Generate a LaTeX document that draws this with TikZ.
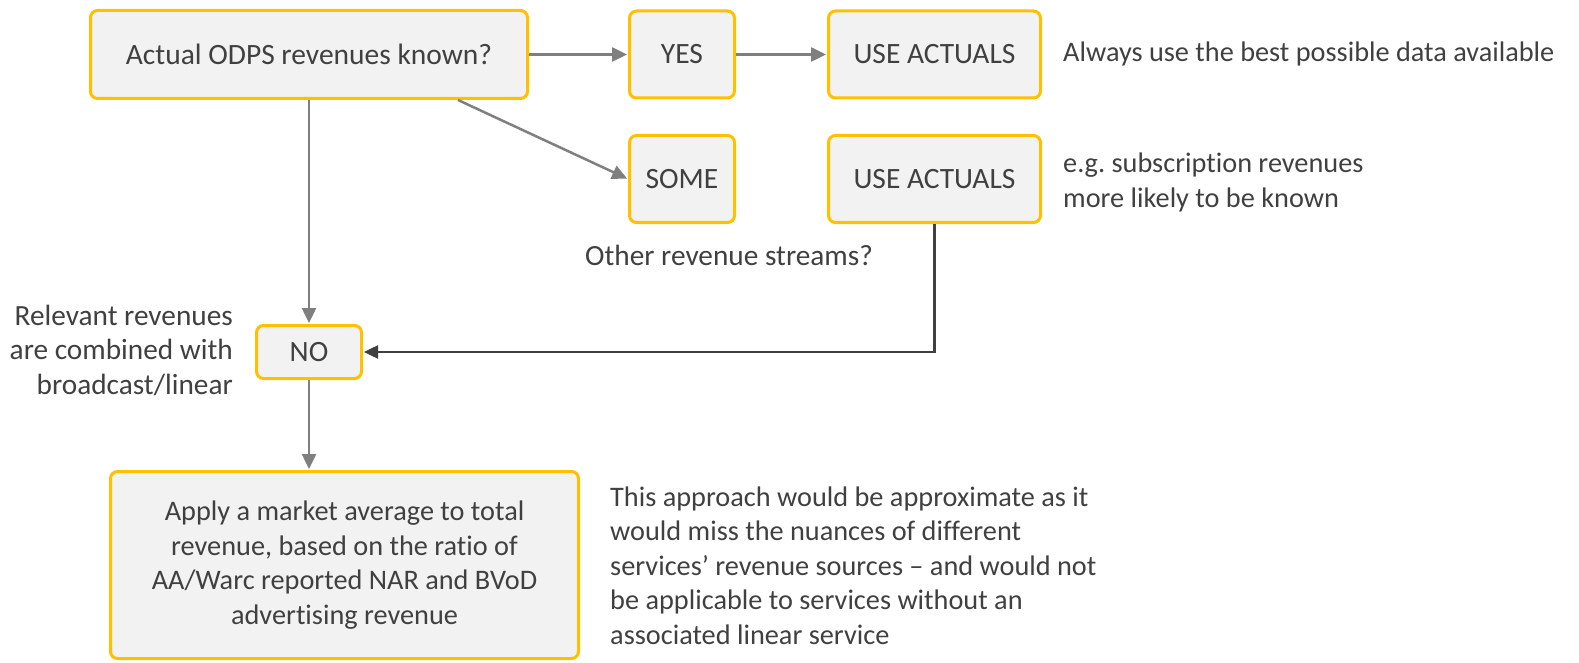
\documentclass[tikz,border=0pt]{standalone}
\usepackage{fontspec}
\setmainfont{Carlito}[Ligatures={TeX,NoCommon}]
\usetikzlibrary{arrows.meta}
\definecolor{gold}{HTML}{FFC000}
\definecolor{boxfill}{HTML}{F2F2F2}
\definecolor{txt}{HTML}{404040}
\definecolor{arrgray}{HTML}{7F7F7F}
\definecolor{arrdark}{HTML}{404040}
\begin{document}
\frenchspacing
\begin{tikzpicture}[x=1pt,y=-1pt,
  every node/.style={font=\frenchspacing\fontsize{28.3}{34.5}\selectfont, text=txt},
  bigtext/.style={font=\frenchspacing\fontsize{29.5}{34.5}\selectfont},
  midtext/.style={font=\frenchspacing\fontsize{29.3}{34.5}\selectfont},
  flowbox/.style={draw=gold, fill=boxfill, line width=3pt, rounded corners=7pt, inner sep=0pt, align=center},
  grayarrow/.style={draw=arrgray, line width=2.5pt, -{Triangle[length=15pt,width=14pt]}, shorten >=1pt},
  darkarrow/.style={draw=arrdark, line width=2.5pt, -{Triangle[length=14pt,width=13pt]}, shorten >=1pt},
  note/.style={inner sep=0pt}
]
\useasboundingbox (0,0) rectangle (1579,663);
\node[flowbox, bigtext, minimum width=437pt, minimum height=88pt] (q) at (309,54.5) {Actual ODPS revenues known?};
\node[flowbox, bigtext, minimum width=105pt, minimum height=87pt] (yes) at (682,54.5) {YES};
\node[flowbox, bigtext, minimum width=212pt, minimum height=87pt] (ua1) at (934.5,54.5) {USE ACTUALS};
\node[flowbox, bigtext, minimum width=105pt, minimum height=87pt] (some) at (682,179) {SOME};
\node[flowbox, bigtext, minimum width=212pt, minimum height=87pt] (ua2) at (934.5,179) {USE ACTUALS};
\node[flowbox, bigtext, minimum width=105pt, minimum height=53pt] (no) at (309,352) {NO};
\node[flowbox, minimum width=468pt, minimum height=187pt] (apply) at (344.5,565) {Apply a market average to total\\revenue, based on the ratio of\\AA/Warc reported NAR and BVoD\\advertising revenue};

\node[note, anchor=base west] (n1) at (1063,62) {Always use the best possible data available};
\node[note, anchor=base west] (n2) at (1063,173) {\begin{tabular}[t]{@{}l@{}}e.g. subscription revenues\\more likely to be known\end{tabular}};
\node[note, midtext, anchor=base] (n3) at (729,265) {Other revenue streams?};
\node[note, midtext, anchor=base east] (n4) at (233,325) {\begin{tabular}[t]{@{}r@{}}Relevant revenues\\are combined with\\broadcast/linear\end{tabular}};
\node[note, anchor=base west] (n5) at (610,506) {\begin{tabular}[t]{@{}l@{}}This approach would be approximate as it\\would miss the nuances of different\\services’ revenue sources – and would not\\be applicable to services without an\\associated linear service\end{tabular}};

\draw[grayarrow] (q.east) -- (yes.west);
\draw[grayarrow] (yes.east) -- (ua1.west);
\draw[grayarrow] ([xshift=149pt]q.south) -- (some.west);
\draw[grayarrow] (q.south) -- (no.north);
\draw[darkarrow] (ua2.south) |- (no.east);
\draw[grayarrow] (no.south) -- (no.south |- apply.north);
\end{tikzpicture}
\end{document}
